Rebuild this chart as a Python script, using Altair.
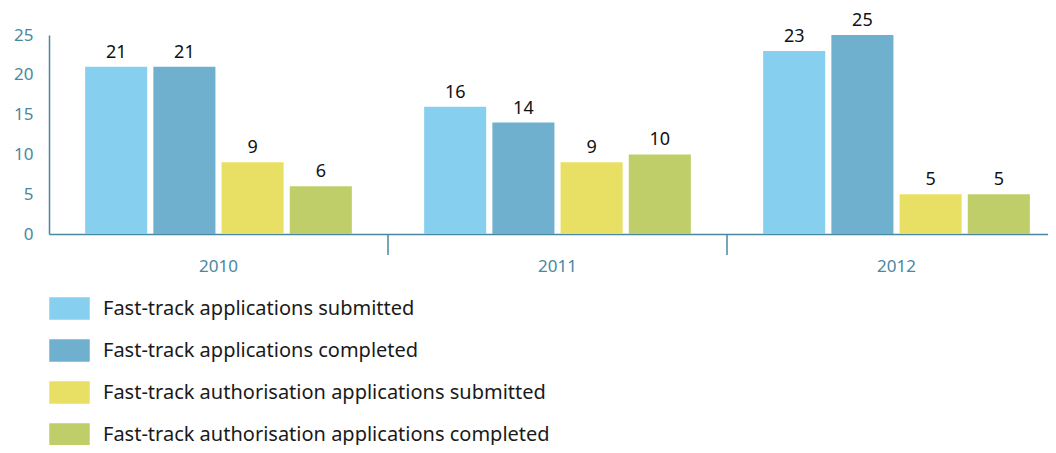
import altair as alt
import pandas as pd

years = ["2010", "2011", "2012"]
series = [
    "Fast-track applications submitted",
    "Fast-track applications completed",
    "Fast-track authorisation applications submitted",
    "Fast-track authorisation applications completed",
]
colors = ["#87CFEF", "#6FB0CE", "#E8E065", "#C0CE69"]
values = {
    series[0]: [21, 16, 23],
    series[1]: [21, 14, 25],
    series[2]: [9, 9, 5],
    series[3]: [6, 10, 5],
}
y_ticks = [0, 5, 10, 15, 20, 25]
divider_years = ["2011", "2012"]

rows = []
for s in series:
    for yr, v in zip(years, values[s]):
        rows.append({"year": yr, "series": s, "value": v})
df = pd.DataFrame(rows)
div_df = pd.DataFrame({"year": divider_years})

FONT = "Noto Sans"
AXIS_COLOR = "#4A87A0"
W, H = 999, 199
PAD_L, PAD_T = 41, 27

x_scale = alt.Scale(domain=years, paddingInner=0, paddingOuter=0, range=[0, 1017])
xo_scale = alt.Scale(domain=series, paddingInner=0.09, paddingOuter=0.53)
y_axis = alt.Axis(title=None, values=y_ticks, grid=False, ticks=False,
                  labelOverlap=False, labelFlush=False, labelBound=False,
                  labelFontSize=17, labelColor=AXIS_COLOR,
                  labelFont=FONT, labelPadding=16, domainColor=AXIS_COLOR,
                  domainWidth=1.5)

base = alt.Chart(df).encode(
    x=alt.X("year:N", scale=x_scale, sort=years,
            axis=alt.Axis(title=None, labelAngle=0, ticks=False, labelFontSize=17,
                          labelColor=AXIS_COLOR, labelFont=FONT, labelPadding=24,
                          domainColor=AXIS_COLOR, domainWidth=1.5)),
    xOffset=alt.XOffset("series:N", scale=xo_scale, sort=series),
    y=alt.Y("value:Q", scale=alt.Scale(domain=[0, 25], nice=False, zero=True),
            axis=y_axis),
)

bars = base.mark_bar().encode(
    color=alt.Color("series:N", sort=series,
                    scale=alt.Scale(domain=series, range=colors),
                    legend=alt.Legend(
                        title=None, orient="none", legendX=0, legendY=253,
                        direction="vertical",
                        symbolType="M-1,-0.55H1V0.55H-1Z", symbolSize=1640,
                        symbolStrokeWidth=0, symbolOpacity=1,
                        labelFontSize=20, labelFont=FONT, labelColor="#1a1a1a",
                        labelOffset=13, rowPadding=10, labelLimit=800)),
)

labels = base.mark_text(baseline="bottom", dy=-5, fontSize=18, font=FONT,
                        color="#111111").encode(text="value:Q")

dividers = alt.Chart(div_df).mark_rule(color=AXIS_COLOR, strokeWidth=1.5).encode(
    x=alt.X("year:N", scale=x_scale, bandPosition=0),
    y=alt.value(H),
    y2=alt.value(H + 21),
)

chart = alt.layer(bars, labels, dividers).properties(
    width=W, height=H,
    autosize=alt.AutoSizeParams(type="none"),
    padding={"left": PAD_L, "top": PAD_T, "right": 0, "bottom": 437 - PAD_T - H},
).configure_view(stroke=None)

chart.save("out.html", embed_options={"renderer": "svg", "actions": False})
